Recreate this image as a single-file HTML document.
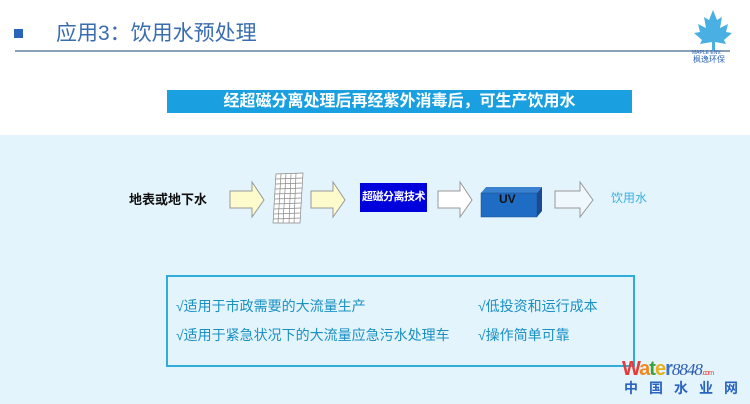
<!DOCTYPE html>
<html><head><meta charset="utf-8"><style>
body{margin:0;width:750px;height:404px;position:relative;overflow:hidden;background:#fff;font-family:"Liberation Sans","Noto Sans CJK SC",sans-serif}
.a{position:absolute;white-space:nowrap}
</style></head><body>
<div class="a" style="left:0;top:135px;width:750px;height:269px;background:#e3f4fc"></div>
<div class="a" style="left:14px;top:29px;width:9px;height:9px;background:#2a64b8"></div>
<div class="a" style="left:56px;top:21px;font-size:21px;color:#3a6cb0;line-height:26px">应用3：饮用水预处理</div>
<div class="a" style="left:15px;top:50px;width:715px;height:2px;background:#8aa0b8"></div>
<svg class="a" style="left:690px;top:8px" width="50" height="55">
<polygon points="23,2 27,12 32,9 30,20 38,16 36,24 42,25 34,32 36,36 25,34 25,42 22,42 22,34 10,36 12,32 4,25 10,24 8,16 16,20 14,9 19,12" fill="#4ab0e4"/>
<text x="2" y="46" font-size="5" fill="#2a64b8" font-family="Liberation Sans">MAPLE ENV.</text>
<text x="3" y="54" font-size="8" fill="#2a64b8">枫逸环保</text>
</svg>
<div class="a" style="left:167px;top:90px;width:465px;height:23px;background:#1aa0e0;color:#fff;font-weight:bold;font-size:16px;line-height:23px;text-align:center">经超磁分离处理后再经紫外消毒后，可生产饮用水</div>
<div class="a" style="left:129px;top:191px;font-size:13px;font-weight:bold;color:#111;line-height:18px">地表或地下水</div>
<svg class="a" style="left:0;top:0" width="750" height="404">
<g stroke="#999" stroke-width="1">
<polygon points="230,191 252,191 252,182 264,200 252,217 252,208 230,208" fill="#fdfbcc"/>
<polygon points="311,191 333,191 333,182 345,200 333,217 333,208 311,208" fill="#fdfbcc"/>
<polygon points="438,191 460,191 460,182 472,200 460,217 460,208 438,208" fill="#fff"/>
<polygon points="555,191 580,191 580,182 593,200 580,217 580,208 555,208" fill="#eef8fd"/>
</g>
<g stroke="#888" stroke-width="0.7" fill="#fff">
<polygon points="276,174 303,173 300,223 273,223"/>
<path d="M281,174 L278,223 M286,174 L283,223 M291,174 L289,223 M296,173 L294,223 M276,179 L303,178 M276,184 L302,183 M275,189 L302,188 M275,194 L302,193 M275,199 L301,198 M274,204 L301,203 M274,209 L301,208 M274,214 L300,213 M273,219 L300,218" fill="none"/>
</g>
<rect x="360" y="183" width="67" height="29" fill="#0000dd"/>
<polygon points="481,193 486,187 542,187 537,193" fill="#3a82d0"/>
<polygon points="537,193 542,187 542,211 537,217" fill="#1a4a90"/>
<rect x="481" y="193" width="56" height="24" fill="#1e6cc4" stroke="#1a4a90" stroke-width="0.5"/>
<text x="499" y="203" font-size="12" font-weight="bold" fill="#111" font-family="Liberation Sans">UV</text>
</svg>
<div class="a" style="left:360px;top:183px;width:67px;height:29px;color:#fff;font-size:11px;font-weight:bold;line-height:29px;text-align:center;letter-spacing:-0.5px">超磁分离技术</div>
<div class="a" style="left:611px;top:190px;font-size:12px;color:#3ab0e0;line-height:16px">饮用水</div>
<div class="a" style="left:166px;top:275px;width:465px;height:88px;border:2px solid #30acd8"></div>
<div class="a" style="left:176px;top:296px;font-size:14px;color:#1a90c4;line-height:20px">√适用于市政需要的大流量生产</div>
<div class="a" style="left:176px;top:325px;font-size:14px;color:#1a90c4;line-height:20px">√适用于紧急状况下的大流量应急污水处理车</div>
<div class="a" style="left:478px;top:296px;font-size:14px;color:#1a90c4;line-height:20px">√低投资和运行成本</div>
<div class="a" style="left:478px;top:325px;font-size:14px;color:#1a90c4;line-height:20px">√操作简单可靠</div>
<div class="a" style="left:622px;top:358px;font-size:20px;font-weight:bold;line-height:22px;letter-spacing:-1px"><span style="color:#e83a3a">W</span><span style="color:#f08a20">a</span><span style="color:#3aa040">t</span><span style="color:#e8b020">e</span><span style="color:#3a70c8">r</span><span style="color:#2a5cb0;font-style:italic;font-weight:normal;font-family:'Liberation Serif',serif;font-size:17px">8848</span><span style="color:#e83a3a;font-size:7px;font-weight:normal">.com</span></div>
<div class="a" style="left:624px;top:379px;font-size:14px;font-weight:bold;color:#2a64c0;letter-spacing:11px;line-height:18px">中国水业网</div>
</body></html>
